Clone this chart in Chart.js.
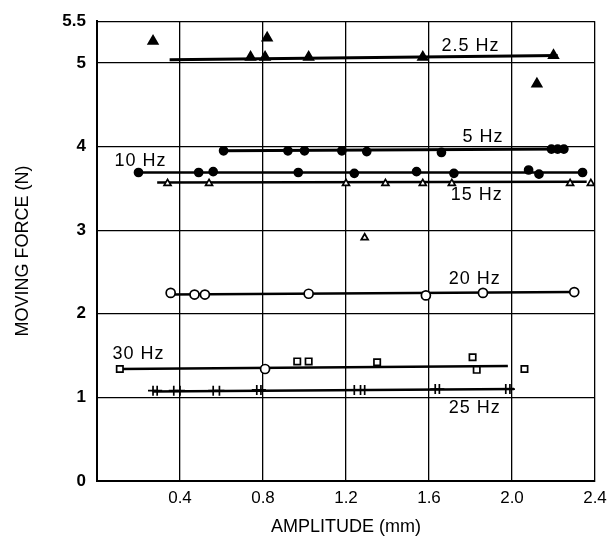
<!DOCTYPE html>
<html>
<head>
<meta charset="utf-8">
<script src="https://cdn.jsdelivr.net/npm/chart.js@4"></script>
<style>
  html, body { margin: 0; padding: 0; background: #fff; }
  #wrap { width: 615px; height: 548px; }
</style>
</head>
<body>
<div id="wrap"><canvas id="force-chart"></canvas></div>
<script>
// tick values
const amplitudeTicks = [0.4, 0.8, 1.2, 1.6, 2.0, 2.4];
const forceTicks = [0, 1, 2, 3, 4, 5, 5.5];

// measured points [amplitude mm, force N]
const hz2_5 = [[0.27, 5.26], [0.74, 5.07], [0.81, 5.07], [0.82, 5.3], [1.02, 5.07], [1.57, 5.07], [2.2, 5.09], [2.12, 4.75]];
const hz5 = [[0.61, 3.95], [0.92, 3.95], [1.0, 3.95], [1.18, 3.95], [1.3, 3.94], [1.66, 3.93], [2.19, 3.97], [2.22, 3.97], [2.25, 3.97]];
const hz10 = [[0.2, 3.69], [0.49, 3.69], [0.56, 3.7], [0.97, 3.69], [1.24, 3.68], [1.54, 3.7], [1.72, 3.68], [2.08, 3.72], [2.13, 3.67], [2.34, 3.69]];
const hz15 = [[0.34, 3.56], [0.54, 3.56], [1.2, 3.56], [1.39, 3.56], [1.57, 3.56], [1.71, 3.56], [2.28, 3.56], [2.38, 3.56], [1.29, 2.91]];
const hz20 = [[0.355, 2.25], [0.47, 2.23], [0.52, 2.23], [1.02, 2.24], [1.585, 2.22], [1.86, 2.25], [2.3, 2.26]];
const hz30 = [[0.11, 1.34], [0.81, 1.34], [0.965, 1.43], [1.02, 1.43], [1.35, 1.42], [1.81, 1.48], [1.83, 1.33], [2.06, 1.34]];
const hz30Styles = ["rect", "circle", "rect", "rect", "rect", "rect", "rect", "rect"];
const hz25 = [[0.27, 1.08], [0.29, 1.08], [0.37, 1.08], [0.4, 1.08], [0.56, 1.08], [0.59, 1.08], [0.77, 1.09], [0.79, 1.09],
              [1.24, 1.09], [1.27, 1.09], [1.29, 1.09], [1.63, 1.1], [1.65, 1.1], [1.97, 1.1], [1.99, 1.1]];

// fitted lines [start, end]
const fit2_5 = [[0.35, 5.04], [2.22, 5.09]];
const fit5 = [[0.61, 3.95], [2.25, 3.97]];
const fit10 = [[0.2, 3.69], [2.35, 3.69]];
const fit15 = [[0.29, 3.57], [2.36, 3.58]];
const fit20 = [[0.355, 2.23], [2.3, 2.26]];
const fit30 = [[0.11, 1.34], [1.98, 1.375]];
const fit25 = [[0.27, 1.07], [2.01, 1.1]];

const toXY = (pts) => pts.map(([x, y]) => ({ x, y }));

function fitLine(pts, width) {
  return {
    type: "line",
    data: toXY(pts),
    borderColor: "#000",
    borderWidth: width,
    pointRadius: 0,
    order: 2,
  };
}

function marks(pts, style, radius, filled) {
  return {
    type: "scatter",
    data: toXY(pts),
    pointStyle: style,
    pointRadius: radius,
    pointBorderWidth: 1.7,
    pointBorderColor: "#000",
    pointBackgroundColor: filled ? "#000" : "#fff",
    order: 1,
  };
}

// series name labels
const seriesLabels = [
  { text: "2.5 Hz", x: 1.8, y: 5.2 },
  { text: "5 Hz", x: 1.86, y: 4.12 },
  { text: "10 Hz", x: 0.21, y: 3.83 },
  { text: "15 Hz", x: 1.83, y: 3.42 },
  { text: "20 Hz", x: 1.82, y: 2.41 },
  { text: "30 Hz", x: 0.2, y: 1.52 },
  { text: "25 Hz", x: 1.82, y: 0.87 },
];

const hzLabels = {
  id: "hzLabels",
  afterDatasetsDraw(chart) {
    const { ctx, scales } = chart;
    ctx.save();
    ctx.font = "18px 'Liberation Sans'";
    ctx.letterSpacing = "1px";
    ctx.fillStyle = "#000";
    ctx.textAlign = "center";
    ctx.textBaseline = "middle";
    seriesLabels.forEach((l) => {
      ctx.fillText(l.text, scales.x.getPixelForValue(l.x), scales.y.getPixelForValue(l.y));
    });
    ctx.restore();
  },
};

const hz30Marks = marks(hz30, "rect", 4.5, false);
hz30Marks.pointStyle = hz30Styles;

new Chart(document.getElementById("force-chart"), {
  data: {
    datasets: [
      fitLine(fit2_5, 3),
      fitLine(fit5, 3),
      fitLine(fit10, 2.5),
      fitLine(fit15, 2.5),
      fitLine(fit20, 2.5),
      fitLine(fit30, 2.5),
      fitLine(fit25, 2.5),
      marks(hz2_5, "triangle", 5.5, true),
      marks(hz5, "circle", 4, true),
      marks(hz10, "circle", 4, true),
      marks(hz15, "triangle", 4, false),
      marks(hz20, "circle", 4.5, false),
      hz30Marks,
      marks(hz25, "cross", 5, false),
    ],
  },
  options: {
    responsive: true,
    maintainAspectRatio: false,
    animation: false,
    layout: { padding: { left: 8, right: 20, top: 18, bottom: 6 } },
    plugins: {
      legend: { display: false },
      tooltip: { enabled: false },
    },
    scales: {
      x: {
        type: "linear",
        min: 0,
        max: 2.4,
        afterBuildTicks: (s) => { s.ticks = [0].concat(amplitudeTicks).map((v) => ({ value: v })); },
        afterFit: (s) => { s.height = 61; },
        ticks: {
          padding: 7,
          color: "#000",
          font: { family: "'Liberation Sans'", size: 17 },
          callback: (v) => (v === 0 ? "" : v.toFixed(1)),
        },
        grid: { color: "#000", lineWidth: 1.3, drawTicks: false },
        border: { color: "#000", width: 2 },
        title: {
          display: true,
          text: "AMPLITUDE (mm)",
          color: "#000",
          font: { family: "'Liberation Sans'", size: 18 },
        },
      },
      y: {
        type: "linear",
        min: 0,
        max: 5.5,
        afterBuildTicks: (s) => { s.ticks = forceTicks.map((v) => ({ value: v })); },
        afterFit: (s) => { s.width = 89; },
        ticks: {
          padding: 11,
          color: "#000",
          font: { family: "'Liberation Sans'", size: 17, weight: "bold" },
          callback: (v) => String(v),
        },
        grid: { color: "#000", lineWidth: 1.3, drawTicks: false },
        border: { color: "#000", width: 2 },
        title: {
          display: true,
          text: "MOVING FORCE (N)",
          color: "#000",
          font: { family: "'Liberation Sans'", size: 18 },
        },
      },
    },
  },
  plugins: [hzLabels],
});
</script>
</body>
</html>
